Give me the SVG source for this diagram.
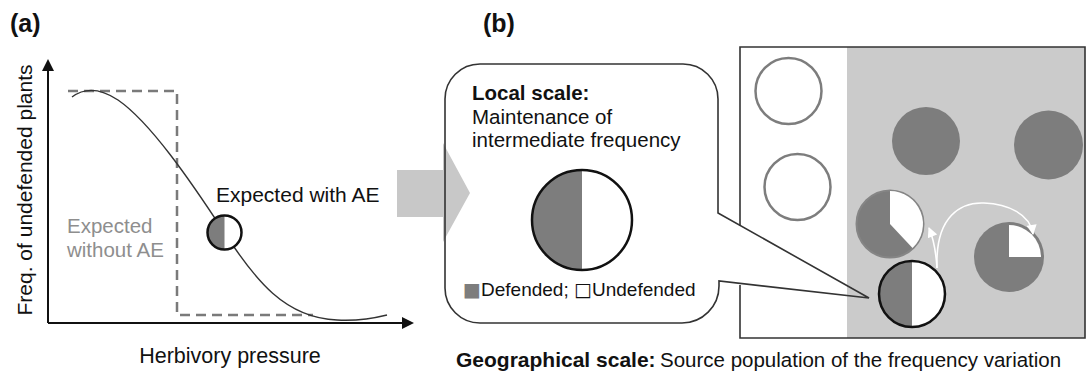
<svg xmlns="http://www.w3.org/2000/svg" width="1088" height="378" viewBox="0 0 1088 378">
  <style>
    text { font-family: "Liberation Sans", Arial, sans-serif; fill: #111; }
    .panel { font-weight: bold; font-size: 25px; }
    .lbl { font-size: 21px; }
    .grey-lbl { font-size: 20.5px; fill: #8e8e8e; }
    .box-txt { font-size: 20.5px; }
    .legend { font-size: 19px; }
    .sq { font-family: "DejaVu Sans", sans-serif; font-size: 19px; }
    .dash { fill: none; stroke: #7a7a7a; stroke-width: 2.5; stroke-dasharray: 10 6; }
    .axis { fill: none; stroke: #111; stroke-width: 2; }
    .dark { fill: #7d7d7d; }
    .ring { fill: #ffffff; stroke: #7d7d7d; stroke-width: 2.5; }
    .move { fill: none; stroke: #ffffff; stroke-width: 1.6; }
  </style>
  <defs>
    <marker id="axisHead" viewBox="0 0 10 10" refX="0" refY="5" markerUnits="userSpaceOnUse" markerWidth="13" markerHeight="12" orient="auto">
      <path d="M0,0 L10,5 L0,10 Z" fill="#111"/>
    </marker>
    <marker id="whiteHead" viewBox="0 0 10 10" refX="9" refY="5" markerUnits="userSpaceOnUse" markerWidth="11" markerHeight="10" orient="auto">
      <path d="M0,0 L10,5 L0,10 Z" fill="#ffffff"/>
    </marker>
  </defs>

  <!-- Panel (a): expected frequency along the herbivory gradient -->
  <g id="panel-a">
    <text class="panel" x="10" y="32">(a)</text>
    <g id="axes">
      <path class="axis" d="M48,323 V71" marker-end="url(#axisHead)"/>
      <path class="axis" d="M48,323 H402" marker-end="url(#axisHead)"/>
    </g>
    <text class="lbl" transform="translate(32,190) rotate(-90)" text-anchor="middle">Freq. of undefended plants</text>
    <text class="lbl" x="230" y="363" text-anchor="middle" style="font-size:21.5px">Herbivory pressure</text>
    <g id="step-expectation">
      <path class="dash" d="M68,91 H177 V315 H313"/>
      <text class="grey-lbl" x="67" y="233">Expected</text>
      <text class="grey-lbl" x="67" y="257">without AE</text>
    </g>
    <g id="smooth-expectation">
      <path d="M72,97 C84,88 100,88 118,100 C150,122 190,180 224,232 C255,280 285,318 337,320 C355,321 375,318 387,315" fill="none" stroke="#333" stroke-width="1.4"/>
      <text class="lbl" x="216" y="202">Expected with AE</text>
    </g>
    <g id="mixed-point">
      <circle cx="224.5" cy="232.5" r="17" fill="#ffffff"/>
      <path class="dark" d="M224.5,215.5 A17,17 0 0 0 224.5,249.5 Z"/>
      <circle cx="224.5" cy="232.5" r="17" fill="none" stroke="#111" stroke-width="2.5"/>
    </g>
  </g>

  <!-- Transition arrow between panels -->
  <g id="transition-arrow">
    <polygon points="397,170 443,170 443,143 470,193 443,242 443,217 397,217" fill="#c8c8c8"/>
  </g>

  <text class="panel" x="483" y="32">(b)</text>

  <!-- Panel (b), right: landscape with source population -->
  <g id="landscape">
    <rect x="847" y="47" width="238" height="291" fill="#cbcbcb"/>
    <path d="M740,226 V47 H1085 V338 H740 V285" fill="none" stroke="#333" stroke-width="1.6"/>
    <circle class="ring" cx="788.5" cy="91" r="33"/>
    <circle class="ring" cx="797.5" cy="187" r="33"/>
    <circle class="dark" cx="926" cy="141" r="34"/>
    <circle class="dark" cx="1048.5" cy="145" r="34.5"/>
    <g id="pie-mostly-defended">
      <circle cx="890" cy="224" r="33.5" fill="#7d7d7d" stroke="#858585" stroke-width="2"/>
      <path d="M890,224 L890,191 A33,33 0 0 1 912.5,248.1 Z" fill="#ffffff"/>
    </g>
    <g id="pie-quarter">
      <circle class="dark" cx="1009" cy="257" r="35"/>
      <path d="M1009,257 L1009,225 A32,32 0 0 1 1041,257 Z" fill="#ffffff"/>
    </g>
    <g id="pie-source">
      <circle cx="912" cy="294" r="33" fill="#ffffff"/>
      <path class="dark" d="M912,261 A33,33 0 0 0 912,327 Z"/>
      <circle cx="912" cy="294" r="33" fill="none" stroke="#111" stroke-width="2.5"/>
    </g>
  </g>

  <!-- Dispersal from the source population -->
  <g id="connectors">
    <path class="move" d="M937,268 C936,252 934,240 929,228" marker-end="url(#whiteHead)"/>
    <path class="move" d="M937,268 C935,215 962,202 984,203 C1008,204 1030,214 1033,234" marker-end="url(#whiteHead)"/>
  </g>

  <!-- Panel (b), left: callout for the local scale -->
  <g id="local-callout">
    <path d="M480,64 H683 A35,35 0 0 1 718,99 V213 L869,298 L719,281 V286 A37,37 0 0 1 682,323 H480 A35,35 0 0 1 445,288 V99 A35,35 0 0 1 480,64 Z" fill="none" stroke="#333" stroke-width="1.6" stroke-linejoin="miter"/>
    <text class="box-txt" x="472" y="100" font-weight="bold">Local scale:</text>
    <text class="box-txt" x="472" y="124">Maintenance of</text>
    <text class="box-txt" x="472" y="147">intermediate frequency</text>
    <g id="local-pie">
      <circle cx="582" cy="220" r="50" fill="#ffffff"/>
      <path class="dark" d="M582,170 A50,50 0 0 0 582,270 Z"/>
      <circle cx="582" cy="220" r="50" fill="none" stroke="#111" stroke-width="2.5"/>
    </g>
    <text class="legend" y="296"><tspan x="463" class="sq" style="fill:#7d7d7d">■</tspan><tspan x="481">Defended;</tspan><tspan x="574" class="sq">□</tspan><tspan x="592">Undefended</tspan></text>
  </g>

  <!-- Caption under panel (b) -->
  <text x="456" y="367" font-weight="bold" style="font-size:21px">Geographical scale:</text>
  <text x="660" y="367" style="font-size:20.5px">Source population of the frequency variation</text>
</svg>
